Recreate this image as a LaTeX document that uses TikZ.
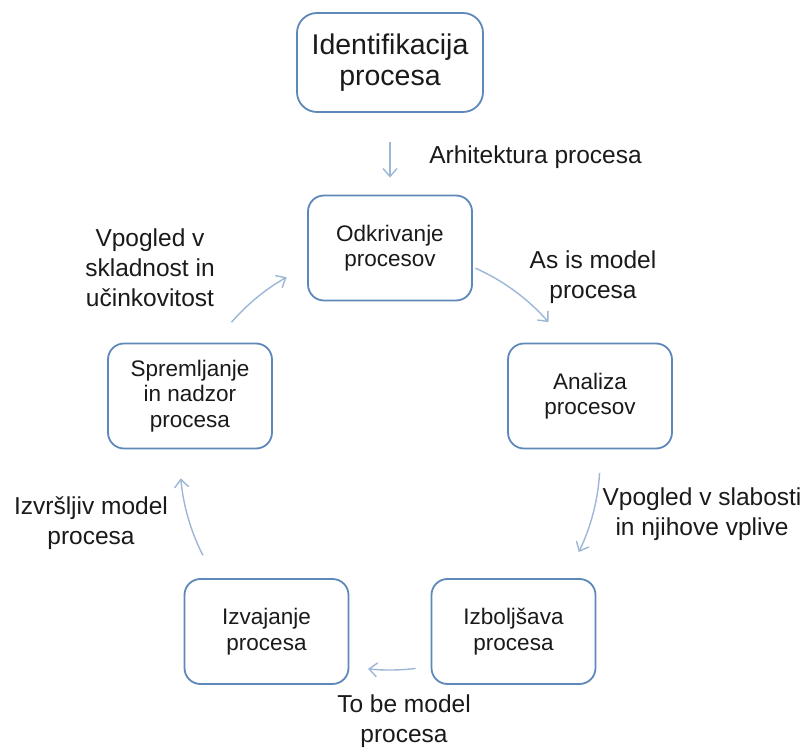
\documentclass[tikz,border=0pt]{standalone}
\usepackage{fontspec}
\setmainfont{Liberation Sans}
\usetikzlibrary{arrows.meta,calc}
\definecolor{boxline}{HTML}{5F88BA}
\definecolor{flowline}{HTML}{9DB7D6}
\definecolor{ink}{HTML}{1A1A1A}
\begin{document}
\begin{tikzpicture}[x=1pt,y=1pt,
  stage/.style={draw=boxline, line width=1.8pt, rounded corners=16pt, fill=white,
    minimum width=164pt, minimum height=105pt, align=center, text=ink,
    font=\fontsize{22.5}{25.5}\selectfont, inner sep=0pt},
  headbox/.style={stage, rounded corners=20pt, minimum width=186pt,
    minimum height=99pt, font=\fontsize{28.5}{31}\selectfont},
  flow/.style={draw=flowline, line width=1.4pt,
    -{Straight Barb[length=8pt,width=14pt]}},
  note/.style={align=center, text=ink, font=\fontsize{24.5}{30}\selectfont, inner sep=0pt}]

\useasboundingbox[fill=white] (0,0) rectangle (812,753);

% stages of the cycle
\node[headbox] (ident) at (390,690.5) {Identifikacija\\procesa};
\node[stage] (odk) at (390,505) {Odkrivanje\\procesov};
\node[stage] (ana) at (590,357) {Analiza\\procesov};
\node[stage] (izb) at (513.5,121.5) {Izboljšava\\procesa};
\node[stage] (izv) at (266.5,121.5) {Izvajanje\\procesa};
\node[stage] (spr) at (190,357) {Spremljanje\\in nadzor\\procesa};

% entry arrow
\draw[flow, shorten <=29.5pt, shorten >=17pt] (ident) -- (odk);

% cycle arrows: arcs on a common circle
\coordinate (C) at (390,293);
\foreach \n/\s/\e in {arcA/66/41, arcB/-3.5/-26, arcC/-83/-96, arcD/207/185, arcE/139/119.5}{
  \coordinate (\n) at ($(C)+(\s:210pt)$);
  \draw[flow] (\n) arc[start angle=\s, end angle=\e, radius=210pt];
}

% labels
\node[note] (lArh) at (535.5,596) {Arhitektura procesa};
\node[note] (lVsk) at (150,485) {Vpogled v\\skladnost in\\učinkovitost};
\node[note] (lAs) at (593,476) {As is model\\procesa};
\node[note] (lVsl) at (702,239) {Vpogled v slabosti\\in njihove vplive};
\node[note] (lIzv) at (91,230) {Izvršljiv model\\procesa};
\node[note] (lTo) at (404,32) {To be model\\procesa};
\end{tikzpicture}
\end{document}
